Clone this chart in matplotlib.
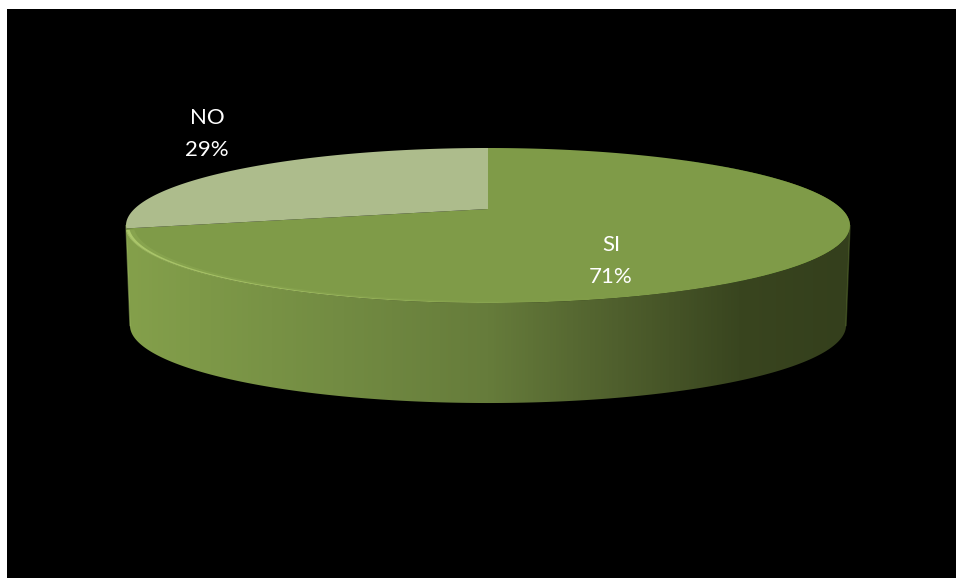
import numpy as np
import matplotlib
matplotlib.use("Agg")
import matplotlib.pyplot as plt
from matplotlib.patches import Polygon, Rectangle
from matplotlib.colors import LinearSegmentedColormap, to_rgb

categories = ["SI", "NO"]
shares = [71, 29]
slice_colors = ["#7f9b48", "#adbc8c"]
label_pos = [(611, 261), (207, 134)]

W, H = 956, 578
fig = plt.figure(figsize=(W / 100, H / 100), dpi=100, facecolor="white")
ax = fig.add_axes([0, 0, 1, 1])
ax.axis("off")
ax.add_patch(Rectangle((7, 9), W - 7, H - 9, fc="black", ec="none", zorder=0))

# Perspective projection of the unit disc onto the tilted top face
CX, CY = 488, 209
A, B, K = 74.0, 353.7, 0.213
DEPTH = 100.0


def project(theta, r=1.0, depth=0.0, shrink=0.0):
    u, v = r * np.sin(theta), r * np.cos(theta)
    w = 1 + K * v
    return CX + B * (1 - shrink) * u / w, CY - A * v / w + depth


def shaded_patch(xs, ys, image, zorder):
    """Paint an RGBA strip over x 126..850, clipped to a closed outline."""
    im = ax.imshow(image, extent=(126, 850, 420, 140), aspect="auto",
                   zorder=zorder, interpolation="bilinear")
    clip = Polygon(np.c_[xs, ys], closed=True, transform=ax.transData, fc="none", ec="none")
    ax.add_patch(clip)
    im.set_clip_path(clip)
    return im


def glow(t0, t1, r0, r1, color, alpha_at, zorder=3):
    """Soft band along the rim whose opacity depends on horizontal position."""
    t = np.linspace(t0, t1, 400)
    ox, oy = project(t, r=r1)
    ix, iy = project(t[::-1], r=r0)
    s = np.linspace(0, 1, 724)
    rgba = np.ones((1, 724, 4))
    rgba[..., :3] = to_rgb(color)
    rgba[0, :, 3] = alpha_at(s)
    shaded_patch(np.r_[ox, ix], np.r_[oy, iy], rgba, zorder)


# Cylinder wall, shaded from left to right
wall_cmap = LinearSegmentedColormap.from_list(
    "wall",
    [(0.00, "#84a04b"), (0.30, "#728b42"), (0.50, "#667c3b"),
     (0.68, "#4f5f2d"), (0.85, "#39451f"), (1.00, "#343f1c")],
)
wall_t = np.linspace(0, 2 * np.pi, 1440)
tx, ty = project(wall_t)
bx, by = project(wall_t, depth=DEPTH, shrink=0.011)
lo, hi = np.argmax(tx), np.argmin(tx)
front = np.arange(lo, hi + 1)
wall_x = np.r_[tx[front], bx[front][::-1]]
wall_y = np.r_[ty[front], by[front][::-1]]
strip = wall_cmap(np.linspace(0, 1, 724)).reshape(1, -1, 4)
shaded_patch(wall_x, wall_y, strip, 1)

# Top face slices, clockwise from twelve o'clock
fractions = np.array(shares, dtype=float) / sum(shares)
edges = np.r_[0, np.cumsum(fractions)] * 2 * np.pi
for i, name in enumerate(categories):
    t = np.linspace(edges[i], edges[i + 1], 400)
    x, y = project(t)
    ax.add_patch(Polygon(np.c_[np.r_[CX, x], np.r_[CY, y]], closed=True,
                         fc=slice_colors[i], ec="none", zorder=2))

# Bevel on the SI rim: a thin bright line on the front left, a wide soft sheen on the right
glow(edges[1] - 0.02, np.pi / 2, 0.980, 1.0, "#b5d272",
     lambda s: 0.16 * np.clip(1.0 - s / 0.75, 0, 1))
glow(edges[1] - 0.02, np.pi / 2, 0.992, 1.002, "#c4e07e",
     lambda s: 0.6 * np.clip(1.0 - s / 0.62, 0, 1))
for r0 in np.linspace(0.90, 0.995, 16):
    glow(0.0, edges[1], r0, 1.0, "#98b85a",
         lambda s: 0.035 * np.clip((s - 0.55) / 0.40, 0, 1))

# Faint lit edges down both sides of the wall
ax.plot([tx[hi], bx[hi]], [ty[hi], by[hi]], color="#a9c46a", lw=1.0, alpha=0.45, zorder=3)
ax.plot([tx[lo], bx[lo]], [ty[lo], by[lo]], color="#6f8a3c", lw=1.0, alpha=0.4, zorder=3)

for name, share, (px, py) in zip(categories, shares, label_pos):
    ax.text(px, py, f"{name}\n{share}%", color="white", fontsize=16, ha="center", va="center",
            family="Lato", linespacing=1.75, zorder=4)

ax.set_xlim(0, W)
ax.set_ylim(H, 0)
fig.savefig("out.png", dpi=100, facecolor="white")
